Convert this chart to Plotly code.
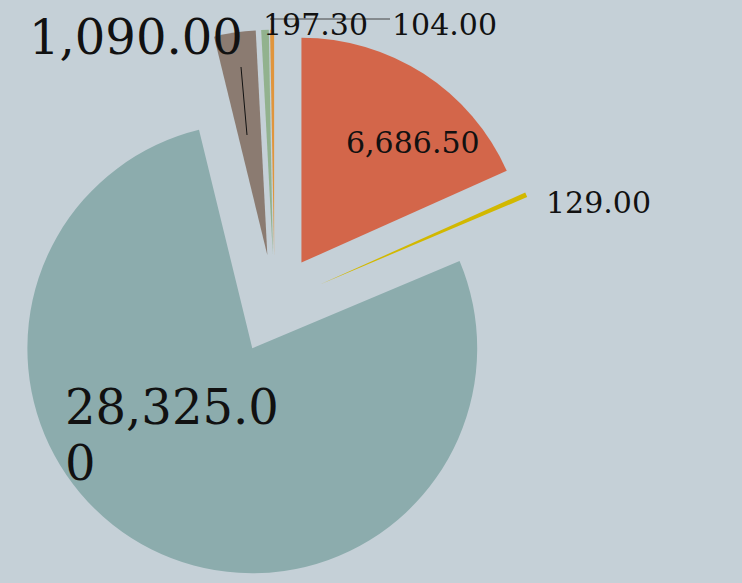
import plotly.graph_objects as go

BG_COLOR = "#C5D0D7"
FONT = "DejaVu Serif"
TEXT_COLOR = "#111111"
W, H = 742, 583

values = [6686.50, 129.00, 28325.00, 1090.00, 197.30, 104.00]
colors = ["#D3664A", "#D2B800", "#8CACAD", "#8B7B71", "#92B28E", "#E0953D"]
font_sizes = [30, 30, 48, 48, 30, 30]

fig = go.Figure(
    go.Pie(
        values=values,
        textinfo="none",
        sort=False,
        direction="clockwise",
        rotation=0,
        pull=0.22,
        automargin=False,
        marker=dict(colors=colors, line=dict(width=0)),
        hoverinfo="value",
        domain=dict(x=[0, 0.74], y=[0.0077, 0.949]),
        showlegend=False,
    )
)

# value labels, placed where the reference draws them: (slice, centre px)
label_pos = [(0, (413, 143)), (1, (598, 203)), (3, (136, 37)),
             (4, (315, 24)), (5, (444, 24))]
for idx, (px, py) in label_pos:
    fig.add_annotation(
        x=px / W, y=1 - py / H, xref="paper", yref="paper",
        text=f"{values[idx]:,.2f}", showarrow=False,
        xanchor="center", yanchor="middle",
        font=dict(family=FONT, size=font_sizes[idx], color=TEXT_COLOR),
    )

# the big label wraps onto a second line, left aligned
big = f"{values[2]:,.2f}"
for part, py in [(big[:-1], 407), (big[-1], 463)]:
    fig.add_annotation(
        x=63 / W, y=1 - py / H, xref="paper", yref="paper",
        text=part, showarrow=False,
        xanchor="left", yanchor="middle",
        font=dict(family=FONT, size=font_sizes[2], color=TEXT_COLOR),
    )

# leader lines
leaders = [((241, 67), (247, 135), "#111111"), ((270, 19), (390, 19), "#444444")]
for (x0, y0), (x1, y1), c in leaders:
    fig.add_shape(
        type="line", xref="paper", yref="paper",
        x0=x0 / W, y0=1 - y0 / H, x1=x1 / W, y1=1 - y1 / H,
        line=dict(color=c, width=1),
    )

fig.update_layout(
    width=W,
    height=H,
    margin=dict(l=0, r=0, t=0, b=0),
    paper_bgcolor=BG_COLOR,
    plot_bgcolor=BG_COLOR,
    font=dict(family=FONT),
)
# drop the browser's default 8px body margin so the figure fills the window
fig.write_html(
    "out.html",
    config={"displayModeBar": False},
    post_script="document.body.style.margin = '0';",
)
